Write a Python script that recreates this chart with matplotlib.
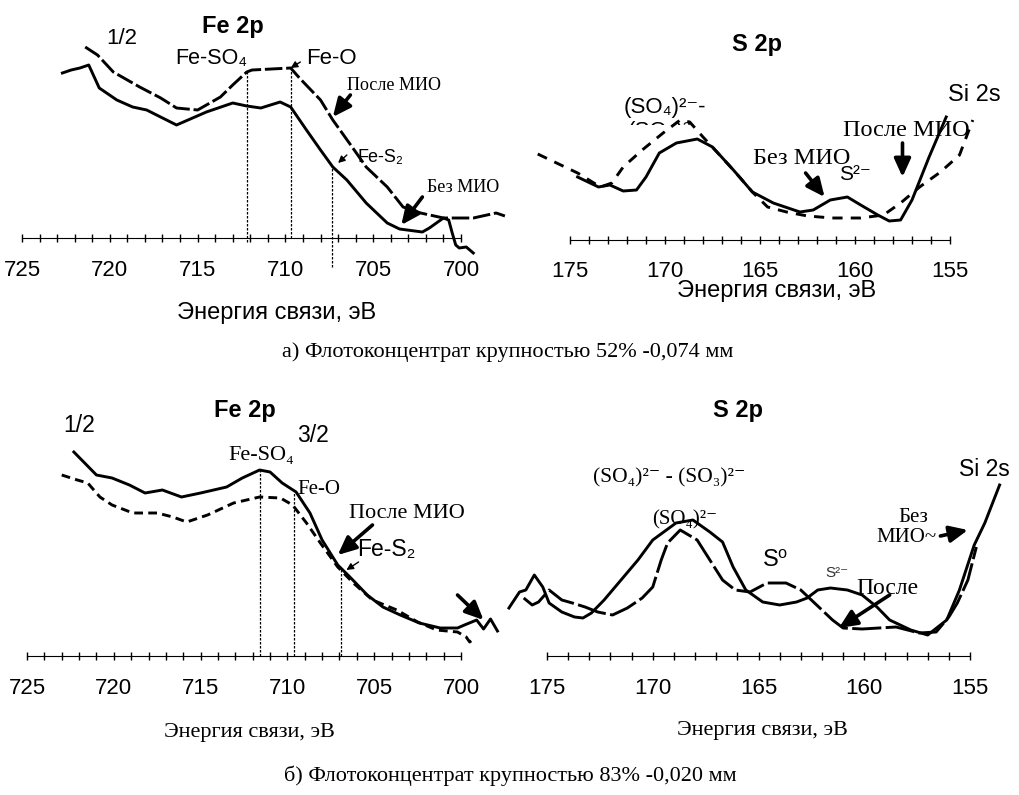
import matplotlib
matplotlib.use('Agg')
import matplotlib.pyplot as plt
from matplotlib.patches import Rectangle

plt.rcParams['font.family'] = ['Liberation Sans', 'DejaVu Sans']
SERIF = ['Liberation Serif', 'DejaVu Serif']

W, H = 1019, 795

# ---------------- data: binding energy (eV) / intensity (arb. units) ----------------
# а) Fe 2p
fe_a_e_bez = [722.7, 722.2, 721.7, 721.2, 720.6, 719.6, 718.7, 717.9, 716.2, 714.5, 713.0,
              712.2, 711.4, 710.3, 709.7, 708.8, 708.0, 707.3, 706.5, 705.4, 704.2, 703.5,
              702.2, 701.8, 701.0, 700.7, 700.5, 700.3, 700.1, 699.7, 699.3]
fe_a_i_bez = [165, 168, 170, 173, 150, 138, 131, 128, 113, 126, 135,
              132, 130, 136, 131, 108, 88, 71, 58, 35, 15, 9,
              6, 10, 20, 18, 5, -7, -10, -9, -15]
fe_a_e_posle = [721.4, 720.7, 719.8, 718.3, 717.1, 716.2, 715.0, 713.7, 713.0, 712.2, 711.9,
                709.7, 709.2, 708.0, 707.3, 706.2, 705.4, 704.2, 703.3, 702.3, 701.0, 699.3,
                698.0, 697.5]
fe_a_i_posle = [191, 183, 166, 151, 140, 130, 128, 141, 153, 166, 168,
                170, 160, 138, 118, 91, 71, 51, 31, 25, 20, 20,
                25, 22]
fe_a_peaks = [712.2, 709.7, 707.35]
fe_a_peak_top = [168, 170, 71]
fe_a_peak_bot = [-4, 0, -29]

# а) S 2p
s_a_e_bez = [174.6, 173.5, 172.9, 172.2, 171.5, 171.0, 170.3, 169.4, 168.3, 167.5, 166.4,
             165.4, 164.3, 162.9, 162.2, 161.3, 160.4, 159.7, 158.8, 158.2, 157.6, 157.0,
             156.1, 155.2]
s_a_i_bez = [63, 53, 55, 49, 50, 63, 87, 97, 101, 93, 70,
             48, 37, 28, 30, 40, 43, 35, 25, 19, 20, 40,
             83, 123]
s_a_e_posle = [176.7, 174.6, 173.4, 172.8, 172.2, 171.2, 170.1, 169.2, 168.7, 168.0, 166.4,
               165.4, 164.6, 163.6, 162.5, 161.2, 159.7, 158.5, 157.6, 156.6, 155.5, 154.5,
               154.2, 153.8]
s_a_i_posle = [86, 67, 53, 57, 73, 90, 107, 120, 118, 103, 70,
               48, 33, 28, 24, 22, 22, 25, 37, 53, 68, 85,
               100, 120]

# б) Fe 2p
fe_b_e_posle = [722.3, 721.0, 720.1, 719.1, 718.2, 717.2, 716.1, 715.0, 713.5, 712.6, 711.6,
                711.0, 710.3, 709.5, 708.7, 708.0, 707.1, 706.4, 705.4, 704.5, 703.5, 702.4,
                701.2, 700.2, 699.8, 699.1, 698.7, 698.3, 697.9]
fe_b_i_posle = [204, 181, 178, 171, 163, 166, 159, 163, 169, 178, 186,
                184, 173, 164, 143, 116, 91, 79, 61, 49, 41, 33,
                28, 28, 31, 36, 27, 37, 25]
fe_b_e_bez = [723.0, 722.1, 721.5, 720.8, 720.1, 718.9, 717.5, 716.6, 715.8, 714.6, 713.1,
              711.6, 710.4, 709.7, 708.9, 708.1, 707.1, 706.2, 705.1, 703.7, 702.5, 701.4,
              700.2, 699.7, 699.5, 699.2]
fe_b_i_bez = [181, 176, 173, 159, 151, 143, 143, 139, 134, 141, 153,
              159, 158, 151, 133, 113, 89, 73, 56, 46, 34, 26,
              24, 19, 14, 18]
fe_b_peaks = [711.6, 709.6, 706.9]
fe_b_peak_top = [186, 164, 88]

# б) S 2p
s_b_e_bez = [176.8, 176.3, 176.0, 175.6, 175.2, 174.9, 174.3, 173.7, 173.3, 172.9, 172.3,
             171.5, 170.7, 170.0, 168.9, 168.1, 167.3, 166.7, 166.2, 165.6, 164.8, 164.0,
             163.2, 162.7, 162.2, 161.6, 160.8, 160.1, 159.4, 158.8, 157.8, 157.0, 156.1,
             155.5, 154.8, 154.3, 153.6]
s_b_i_bez = [48, 64, 66, 81, 69, 53, 44, 39, 38, 43, 56,
             76, 96, 116, 133, 136, 124, 114, 89, 66, 54, 51,
             54, 58, 66, 68, 66, 61, 49, 36, 26, 21, 36,
             66, 111, 133, 171]
s_b_e_posle = [176.1, 175.7, 175.4, 174.9, 174.3, 173.8, 173.2, 172.6, 171.9, 171.2, 170.5,
               170.0, 169.6, 169.3, 168.7, 167.9, 167.3, 166.7, 166.1, 165.4, 164.6, 163.7,
               163.0, 162.6, 162.1, 161.5, 161.0, 160.1, 158.5, 157.4, 156.6, 156.0, 155.6,
               155.1, 154.7]
s_b_i_posle = [58, 51, 54, 66, 56, 53, 49, 44, 41, 48, 58,
               69, 96, 113, 126, 116, 96, 76, 66, 64, 73, 73,
               66, 58, 48, 36, 28, 27, 29, 23, 24, 39, 53,
               76, 109]

fe_ticks = list(range(700, 726))
s_ticks = list(range(155, 176))

fig = plt.figure(figsize=(W / 100, H / 100), dpi=100)


def panel(box, e_ref, px_ref, py0, ticks, pad=13):
    x0, y0, x1, y1 = box
    ax = fig.add_axes([x0 / W, 1 - y1 / H, (x1 - x0) / W, (y1 - y0) / H])
    k = (px_ref[1] - px_ref[0]) / (e_ref[1] - e_ref[0])
    ax.set_xlim(e_ref[0] + (x0 - px_ref[0]) / k, e_ref[0] + (x1 - px_ref[0]) / k)
    ax.set_ylim(py0 - y1, py0 - y0)
    ax.patch.set_alpha(0)
    for s in ['left', 'right', 'top']:
        ax.spines[s].set_visible(False)
    ax.spines['bottom'].set_position(('data', 0))
    ax.spines['bottom'].set_bounds(min(ticks), max(ticks))
    ax.set_xticks([t for t in ticks if t % 5 == 0])
    ax.set_xticks(ticks, minor=True)
    ax.set_yticks([])
    ax.tick_params(axis='x', which='both', direction='inout', length=6, width=1, pad=pad,
                   labelsize=16)
    return ax


def arrow(ax, tail, tip, thick=True):
    if thick:
        props = dict(arrowstyle='-|>,head_length=0.55,head_width=0.25', lw=2.6,
                     color='black', mutation_scale=20, shrinkA=0, shrinkB=0)
    else:
        props = dict(arrowstyle='-|>,head_length=0.5,head_width=0.25', lw=1,
                     color='black', mutation_scale=8, shrinkA=0, shrinkB=0)
    ax.annotate('', xy=tip, xytext=tail, arrowprops=props)


def ftext(x, y, s, **kw):
    fig.text(x / W, 1 - y / H, s, ha='center', va='center', **kw)


LW = 2.1

# ---------- а) Fe 2p ----------
ax1 = panel((0, 0, 515, 330), (725, 700), (22, 461), 238, fe_ticks)
ax1.plot(fe_a_e_bez, fe_a_i_bez, color='black', lw=LW)
ax1.plot(fe_a_e_posle, fe_a_i_posle, color='black', lw=LW, ls=(0, (6, 1.3)))
ax1.vlines(fe_a_peaks, fe_a_peak_bot, fe_a_peak_top, colors='black', lw=0.9, linestyles=(0, (2, 1.2)))
ax1.text(719.3, 200, '1/2', fontsize=16, ha='center', va='center')
ax1.text(714.2, 180, 'Fe-SO₄', fontsize=15.5, ha='center', va='center')
ax1.text(707.4, 180, 'Fe-O', fontsize=16, ha='center', va='center')
arrow(ax1, (709.15, 176), (709.7, 170), thick=False)
ax1.text(703.8, 153, 'После МИО', fontsize=13, ha='center', va='center', family=SERIF)
arrow(ax1, (706.3, 143), (707.3, 121))
ax1.text(704.6, 81, 'Fe-S₂', fontsize=13, ha='center', va='center')
arrow(ax1, (706.5, 83), (707.0, 75), thick=False)
ax1.text(699.9, 50, 'Без МИО', fontsize=13, ha='center', va='center', family=SERIF)
arrow(ax1, (702.2, 41), (703.4, 13))

# ---------- а) S 2p ----------
ax2 = panel((520, 0, 1019, 330), (175, 155), (570, 950), 240, s_ticks, pad=12)
ax2.plot(s_a_e_bez, s_a_i_bez, color='black', lw=LW)
ax2.plot(s_a_e_posle, s_a_i_posle, color='black', lw=LW, ls=(0, (3.5, 2.8)))
ax2.text(170.0, 133, '(SO₄)²⁻-', fontsize=16, ha='center', va='center')
# second line of the label is hidden under the curve, only its top shows
hidden = ax2.text(171.95, 109, '(SO₃)²⁻', fontsize=16, ha='left', va='center', clip_on=True)
clip = Rectangle((164, 115), 10, 40, transform=ax2.transData)
hidden.set_clip_path(clip)
ax2.text(153.7, 145, 'Si 2s', fontsize=17, ha='center', va='center')
ax2.text(157.3, 110, 'После МИО', fontsize=17.5, ha='center', va='center', family=SERIF)
arrow(ax2, (157.5, 97), (157.5, 63))
ax2.text(162.8, 82, 'Без МИО', fontsize=17.5, ha='center', va='center', family=SERIF)
arrow(ax2, (162.6, 67), (161.6, 43))
ax2.text(160.0, 66, 'S²⁻', fontsize=15, ha='center', va='center')

# ---------- б) Fe 2p ----------
ax3 = panel((0, 380, 503, 795), (725, 700), (27, 461), 656, fe_ticks)
ax3.plot(fe_b_e_posle, fe_b_i_posle, color='black', lw=LW)
ax3.plot(fe_b_e_bez, fe_b_i_bez, color='black', lw=LW, ls=(0, (3, 1.8)))
ax3.vlines(fe_b_peaks, 0, fe_b_peak_top, colors='black', lw=0.9, linestyles=(0, (2, 1.2)))
ax3.text(722.0, 231, '1/2', fontsize=16.5, ha='center', va='center')
ax3.text(708.5, 221, '3/2', fontsize=16.5, ha='center', va='center')
ax3.text(711.5, 201, 'Fe-SO₄', fontsize=16, ha='center', va='center', family=SERIF)
ax3.text(708.2, 166, 'Fe-O', fontsize=15, ha='center', va='center', family=SERIF)
ax3.text(703.1, 143, 'После МИО', fontsize=16, ha='center', va='center', family=SERIF)
arrow(ax3, (705.1, 131), (707.1, 101))
ax3.text(704.3, 106, 'Fe-S₂', fontsize=16.5, ha='center', va='center')
arrow(ax3, (705.9, 94), (706.6, 86), thick=False)
arrow(ax3, (700.2, 61), (698.7, 36))

# ---------- б) S 2p ----------
ax4 = panel((503, 380, 1019, 795), (175, 155), (547, 970), 656, s_ticks)
ax4.plot(s_b_e_bez, s_b_i_bez, color='black', lw=LW)
ax4.plot(s_b_e_posle, s_b_i_posle, color='black', lw=LW, ls=(0, (10, 1.5)))
ax4.text(169.2, 178, '(SO₄)²⁻ - (SO₃)²⁻', fontsize=15.5, ha='center', va='center', family=SERIF)
ax4.text(168.5, 136, '(SO₄)²⁻', fontsize=15, ha='center', va='center', family=SERIF)
ax4.text(164.2, 96, 'S⁰', fontsize=17, ha='center', va='center')
ax4.text(161.3, 83, 'S²⁻', fontsize=11, ha='center', va='center', color='#333333')
ax4.text(158.9, 68, 'После', fontsize=17, ha='center', va='center', family=SERIF)
arrow(ax4, (158.8, 61), (161.2, 28))
ax4.text(157.7, 139, 'Без', fontsize=15, ha='center', va='center', family=SERIF)
ax4.text(156.6, 119, 'МИО~', fontsize=15, ha='right', va='center', family=SERIF)
arrow(ax4, (156.4, 120), (155.1, 126))
ax4.text(154.3, 186, 'Si 2s', fontsize=16.5, ha='center', va='center')

# ---------- titles, axis names, captions ----------
ftext(233, 26, 'Fe 2p', fontsize=17, fontweight='bold')
ftext(757, 45, 'S 2p', fontsize=17, fontweight='bold')
ftext(245, 410, 'Fe 2p', fontsize=17, fontweight='bold')
ftext(738, 410, 'S 2p', fontsize=17, fontweight='bold')
ftext(277, 313, 'Энергия связи, эВ', fontsize=17)
ftext(777, 291, 'Энергия связи, эВ', fontsize=17)
ftext(249, 733, 'Энергия связи, эВ', fontsize=16, family=SERIF)
ftext(762, 730, 'Энергия связи, эВ', fontsize=16, family=SERIF)
ftext(508, 352, 'а) Флотоконцентрат крупностью 52% -0,074 мм', fontsize=16, family=SERIF)
ftext(510, 776, 'б) Флотоконцентрат крупностью 83% -0,020 мм', fontsize=16, family=SERIF)

fig.savefig('out.png', dpi=100, facecolor='white')
